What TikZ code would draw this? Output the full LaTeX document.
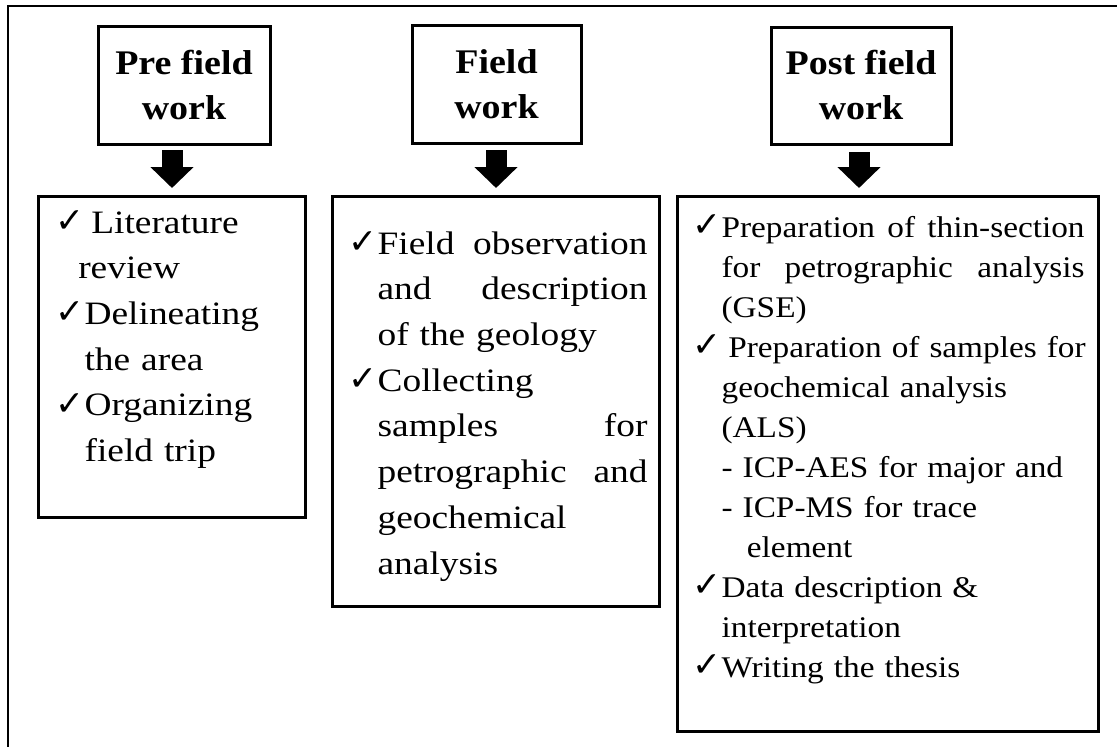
\documentclass[tikz,border=0pt]{standalone}
\usepackage{fontspec}
\usetikzlibrary{arrows.meta,calc}
\newfontfamily\headfont[FakeStretch=1.1]{Liberation Serif}
\newfontfamily\bodyfont[FakeStretch=1.145]{Liberation Serif}
\newfontfamily\bodyfontnarrow[FakeStretch=1.11]{Liberation Serif}
\newfontfamily\symfont{DejaVu Sans}
% check mark bullet in a fixed-width slot
\newcommand{\ckmark}{\makebox[22pt][l]{\symfont\fontsize{26pt}{26pt}\selectfont\raisebox{0.5pt}{✓}}}
\newcommand{\ind}[1]{\hspace*{#1}}
\begin{document}
\begin{tikzpicture}[x=0.75pt,y=-0.75pt,
  frame/.style={line width=1.5pt},
  headbox/.style={draw, line width=2.25pt, rectangle, inner sep=0pt, outer sep=0pt,
    align=center, font=\headfont\bfseries\fontsize{25.9pt}{33.75pt}\selectfont},
  listbox/.style={draw, line width=2.25pt, rectangle, inner sep=0pt, outer sep=0pt},
  listtext/.style={anchor=base west, inner sep=0pt, text width=320pt, align=left,
    font=\bodyfont\fontsize{24.5pt}{34.3pt}\selectfont},
  listtextsmall/.style={listtext, font=\bodyfontnarrow\fontsize{22.5pt}{30pt}\selectfont},
  blockarrow/.style={line width=15.75pt, -{Triangle[width=31.5pt,length=15.75pt]}}]
\useasboundingbox (0,0) rectangle (1117,746);

% outer frame (runs off the page at right and bottom)
\coordinate (fb) at (8,770);
\coordinate (ft) at (8,6);
\coordinate (fr) at (1140,6);
\draw[frame] (fb) -- (ft) -- (fr);

% stage headings
\node[headbox, minimum width=129pt, minimum height=88.5pt] (h1) at (184,85) {Pre field\\work};
\node[headbox, minimum width=126.75pt, minimum height=88.5pt] (h2) at (496.5,84) {Field\\work};
\node[headbox, minimum width=135pt, minimum height=87.75pt] (h3) at (861,85.5) {Post field\\work};

% task boxes
\node[listbox, minimum width=200.25pt, minimum height=240.75pt] (b1) at (171.5,356.5) {};
\node[listbox, minimum width=245.25pt, minimum height=307.5pt] (b2) at (495.5,401) {};
\node[listbox, minimum width=315.75pt, minimum height=401.25pt] (b3) at (887.5,463.5) {};

% block arrows from headings to task boxes
\coordinate (a1) at ($(h1.south)+(-12,6)$);
\coordinate (a2) at ($(h2.south)+(-0.5,7)$);
\coordinate (a3) at ($(h3.south)+(-2,8)$);
\draw[blockarrow] (a1) -- ($(a1 |- b1.north)+(0,-8)$);
\draw[blockarrow] (a2) -- ($(a2 |- b2.north)+(0,-8)$);
\draw[blockarrow] (a3) -- ($(a3 |- b3.north)+(0,-8)$);

% task lists
\node[listtext] (t1) at (55,233) {%
\ckmark\hspace*{5pt}Literature\\
\ind{17.25pt}review\\
\ckmark Delineating\\
\ind{22pt}the area\\
\ckmark Organizing\\
\ind{22pt}field trip};

\node[listtext] (t2) at (348,254) {%
\ckmark\hbox to 202.5pt{Field\hfill observation}\\
\ind{22pt}\hbox to 202.5pt{and\hfill description}\\
\ind{22pt}of the geology\\
\ckmark Collecting\\
\ind{22pt}\hbox to 202.5pt{samples\hfill for}\\
\ind{22pt}\hbox to 202.5pt{petrographic\hfill and}\\
\ind{22pt}geochemical\\
\ind{22pt}analysis};

\node[listtextsmall] (t3) at (692,237) {%
\ckmark\hbox to 272.25pt{Preparation\hfill of\hfill thin-section}\\
\ind{22pt}\hbox to 272.25pt{for\hfill petrographic\hfill analysis}\\
\ind{22pt}(GSE)\\
\ckmark\hspace*{5pt}Preparation of samples for\\
\ind{22pt}geochemical analysis\\
\ind{22pt}(ALS)\\
\ind{22pt}- ICP-AES for major and\\
\ind{22pt}- ICP-MS for trace\\
\ind{41pt}element\\
\ckmark Data description \&\\
\ind{22pt}interpretation\\
\ckmark Writing the thesis};
\end{tikzpicture}
\end{document}
